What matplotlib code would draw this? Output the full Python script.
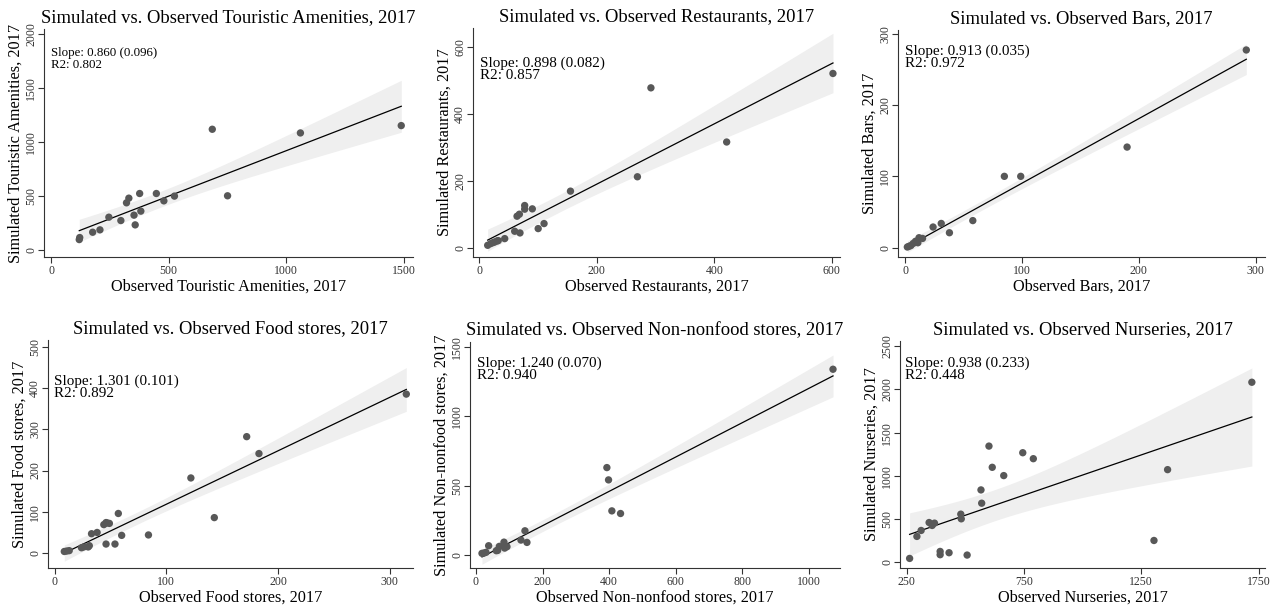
import numpy as np
import matplotlib
matplotlib.use("Agg")
import matplotlib.pyplot as plt

plt.rcParams['font.family'] = ['Liberation Serif', 'DejaVu Serif']

# DATA
tour_obs = [120, 122, 177, 208, 246, 297, 321, 331, 353, 358, 377, 382, 448, 480, 525, 686, 751, 1061, 1490]
tour_sim = [99, 118, 167, 189, 306, 275, 439, 482, 325, 235, 525, 362, 525, 457, 501, 1119, 504, 1085, 1153]

rest_obs = [14, 19, 23, 26, 30, 32, 43, 60, 64, 68, 69, 77, 77, 90, 100, 110, 155, 269, 292, 421, 602]
rest_sim = [7, 12, 15, 17, 20, 21, 27, 49, 94, 100, 44, 126, 115, 116, 57, 72, 169, 212, 478, 316, 521]

bars_obs = [2, 3.4, 5, 7, 9, 11, 12, 15, 24, 31, 38, 58, 85, 99, 190, 292]
bars_sim = [1, 2, 3, 6, 9, 7, 14, 13, 29, 34, 21, 38, 100, 100, 141, 277]

food_obs = [8.6, 10.7, 13, 24, 26, 30, 31, 33, 38, 44, 46, 47, 49, 46, 54, 57, 60, 84, 122, 143, 172, 183, 315]
food_sim = [4, 5, 6, 13, 15, 15, 18, 47, 50, 69, 74, 73, 72, 22, 22, 96, 43, 44, 182, 86, 282, 241, 385]

nonf_obs = [18, 24, 30, 38, 61, 65, 70, 84, 86, 93, 135, 147, 153, 393, 398, 408, 434, 1072]
nonf_sim = [10, 12, 17, 65, 29, 31, 60, 91, 48, 58, 106, 173, 89, 630, 541, 317, 298, 1341]

nurs_obs = [263, 294, 312, 346, 359, 369, 393, 393, 431, 481, 483, 508, 567, 570, 601, 615, 664, 745, 790, 1304, 1362, 1721]
nurs_sim = [42, 297, 366, 458, 424, 451, 123, 85, 108, 555, 501, 81, 836, 682, 1344, 1098, 1002, 1267, 1198, 250, 1071, 2084]

names = ["Touristic Amenities", "Restaurants", "Bars", "Food stores", "Non-nonfood stores", "Nurseries"]
stats = ["Slope: 0.860 (0.096)\nR2: 0.802", "Slope: 0.898 (0.082)\nR2: 0.857",
         "Slope: 0.913 (0.035)\nR2: 0.972", "Slope: 1.301 (0.101)\nR2: 0.892",
         "Slope: 1.240 (0.070)\nR2: 0.940", "Slope: 0.938 (0.233)\nR2: 0.448"]
xticks = [[0, 500, 1000, 1500], [0, 200, 400, 600], [0, 100, 200, 300],
          [0, 100, 200, 300], [0, 200, 400, 600, 800, 1000], [250, 750, 1250, 1750]]
yticks = [[0, 500, 1000, 1500, 2000], [0, 200, 400, 600], [0, 100, 200, 300],
          [0, 100, 200, 300, 400, 500], [0, 500, 1000, 1500], [0, 500, 1000, 1500, 2000, 2500]]
series = [(tour_obs, tour_sim), (rest_obs, rest_sim), (bars_obs, bars_sim),
          (food_obs, food_sim), (nonf_obs, nonf_sim), (nurs_obs, nurs_sim)]

# layout (pixels: left, right, top, bottom)
W, H = 1281, 607
boxes = [(44, 413, 29, 257), (473, 840, 28, 257), (898, 1265, 30, 257),
         (48, 413, 340, 568), (470, 840, 342, 568), (900, 1265, 341, 568)]
xlims = [(-30, 1540), (-11, 614), (-6, 308), (-6, 321), (-18, 1093), (222, 1777)]
ylims = [(-62, 2046), (-28, 657), (-13, 305), (-36, 516), (-96, 1538), (-69, 2562)]
text_pos = [(0.019, 0.92), (0.019, 0.876), (0.019, 0.937),
            (0.016, 0.85), (0.019, 0.937), (0.014, 0.933)]
text_size = [9.3, 10.9, 10.9, 10.9, 10.9, 10.9]

fig = plt.figure(figsize=(W / 100, H / 100), dpi=100)
fig.patch.set_facecolor('white')

for i, (x, y) in enumerate(series):
    l, r, t, b = boxes[i]
    ax = fig.add_axes([l / W, (H - b) / H, (r - l) / W, (b - t) / H])
    x = np.array(x, dtype=float)
    y = np.array(y, dtype=float)

    # linear fit with 95% CI of the mean prediction
    n = len(x)
    slope, icpt = np.polyfit(x, y, 1)
    resid = y - (icpt + slope * x)
    s = np.sqrt(np.sum(resid ** 2) / (n - 2))
    xx = np.linspace(x.min(), x.max(), 200)
    yy = icpt + slope * xx
    se = s * np.sqrt(1 / n + (xx - x.mean()) ** 2 / np.sum((x - x.mean()) ** 2))
    tcrit = 2.1
    ax.fill_between(xx, yy - tcrit * se, yy + tcrit * se, color='#efefef', lw=0, zorder=1)
    ax.plot(xx, yy, color='black', lw=0.9, zorder=2)
    ax.scatter(x, y, s=28, color='#585858', edgecolors='none', zorder=3)

    ax.set_xlim(*xlims[i])
    ax.set_ylim(*ylims[i])
    ax.set_xticks(xticks[i])
    ax.set_yticks(yticks[i])
    for lab in ax.get_yticklabels():
        lab.set_rotation(90)
        lab.set_va('center')
    ax.tick_params(labelsize=8.5, colors='#333333', length=4, width=0.8, pad=2)
    ax.tick_params(axis='y', pad=1)
    for sp in ['top', 'right']:
        ax.spines[sp].set_visible(False)
    for sp in ['left', 'bottom']:
        ax.spines[sp].set_color('#333333')
        ax.spines[sp].set_linewidth(0.8)

    ax.set_title(f"Simulated vs. Observed {names[i]}, 2017", fontsize=13.4, pad=5)
    ax.set_xlabel(f"Observed {names[i]}, 2017", fontsize=11.7, labelpad=1)
    ax.set_ylabel(f"Simulated {names[i]}, 2017", fontsize=11.7, labelpad=1)
    ax.text(text_pos[i][0], text_pos[i][1], stats[i], transform=ax.transAxes,
            fontsize=text_size[i], va='top', ha='left', linespacing=0.95)

fig.savefig('out.png', dpi=100)
